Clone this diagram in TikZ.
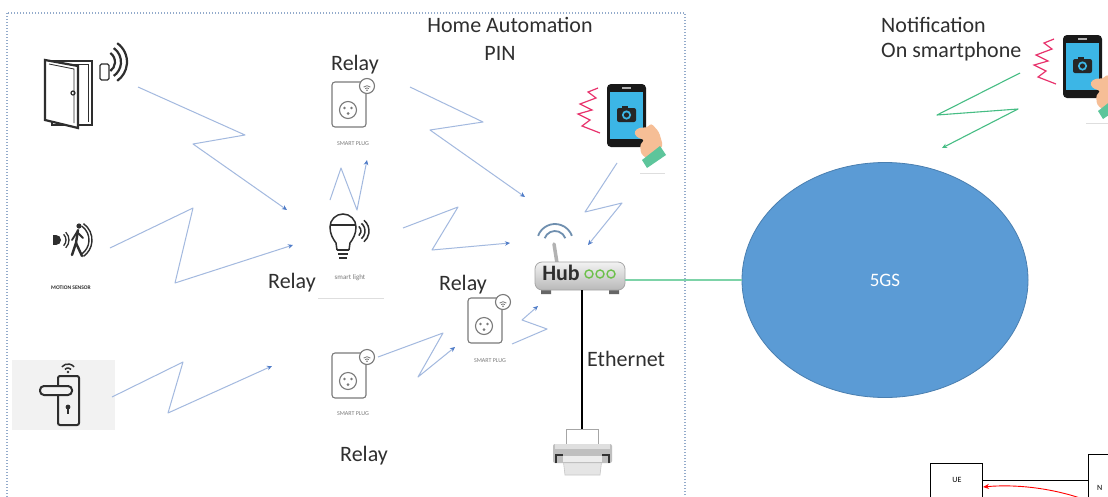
\documentclass[tikz,border=0pt]{standalone}
\usepackage{fontspec}
\setmainfont{Carlito}
\usetikzlibrary{arrows.meta,shapes.geometric}

\definecolor{zig}{HTML}{A3B9DF}
\definecolor{zighead}{HTML}{4F7CC8}
\definecolor{txt}{HTML}{2F2F2F}
\definecolor{plugcol}{HTML}{7A7A7A}
\definecolor{cellblue}{HTML}{5B9BD5}
\definecolor{celledge}{HTML}{4A7FB0}
\definecolor{linkgreen}{HTML}{7DD3A8}
\definecolor{notegreen}{HTML}{46BD84}
\definecolor{screen}{HTML}{3CB6E6}
\definecolor{skin}{HTML}{F6BE96}
\definecolor{cuff}{HTML}{5DC59B}
\definecolor{alertpink}{HTML}{E8336D}
\definecolor{frameblue}{HTML}{93ABCB}
\definecolor{hubgreen}{HTML}{6CC04A}
\definecolor{wifiblue}{HTML}{6F8FAF}
\definecolor{icondark}{HTML}{2E2E2E}

\newcommand\lblfont{\fontsize{22}{26}\selectfont}
\newcommand\tinyfont{\fontsize{6}{7}\selectfont}

\tikzset{
  lbl/.style={font=\lblfont, text=txt, inner sep=0pt},
  tinylbl/.style={font=\tinyfont, text=plugcol, inner sep=0pt},
  zigarrow/.style={draw=zig, line width=1pt, line join=round,
    -{Stealth[length=5pt,width=4.5pt,color=zighead]}},
  plugline/.style={draw=plugcol, line width=1.1pt},
  smartplug/.pic={
    \draw[plugline, rounded corners=3pt] (0,0) rectangle (34,45);
    \draw[plugline] (16,28) circle (8.5);
    \fill[plugcol] (12.5,26) circle (1.4) (19.5,26) circle (1.4) (16,31.5) circle (1.5);
    \draw[plugline, fill=white] (35,4) circle (7.5);
    \fill[plugcol] (35,8.3) circle (0.9);
    \draw[plugcol, line width=0.8pt] (35,8.5) ++(-135:2.6) arc[start angle=-135,end angle=-45,radius=2.6];
    \draw[plugcol, line width=0.8pt] (35,8.5) ++(-135:4.8) arc[start angle=-135,end angle=-45,radius=4.8];
  },
  phone/.pic={
    \draw[alertpink, line width=1.2pt] (-9,4) -- (-19,8) -- (-11,14) -- (-27,20) -- (-15,26)
      -- (-29,30) -- (-17,36) -- (-25,42) -- (-7,49);
    \fill[black!90, rounded corners=4pt] (0,0) rectangle (39,63);
    \fill[screen] (3,8) rectangle (36,55);
    \fill[gray!60] (15,3) rectangle (24,5);
    \fill[black!85, rounded corners=2pt] (10,24) rectangle (29,38);
    \fill[black!85] (15,21.5) rectangle (21,25);
    \fill[screen] (19.5,31) circle (4.6);
    \fill[black!85] (19.5,31) circle (2.6);
    \fill[skin, rounded corners=3pt] (27,47) -- (34,43) -- (40,44) -- (44,39) -- (52,48)
      -- (56,62) -- (42,76) -- (34,70) -- (33,60) -- (38,56) -- (29,53) -- cycle;
    \fill[cuff] (35,76) -- (53,62) -- (59,71) -- (40,84) -- cycle;
  }
}

\begin{document}
\begin{tikzpicture}[x=1pt,y=-1pt]
\clip (0,0) rectangle (1108,496);
\fill[white] (0,0) rectangle (1108,496);

% ---------- home network frame ----------
\draw[frameblue, line width=1.1pt, dash pattern=on 1.2pt off 1.8pt] (7,13) rectangle (685,530);
\node[lbl] (title) at (510,25) {Home Automation};
\node[lbl] (pin) at (500,53) {PIN};

% ---------- door sensor ----------
\begin{scope}[icondark]
  \draw[line width=1.8pt] (52,61) rectangle (92,125);
  \draw[line width=0.8pt] (56,64) -- (88,64) -- (88,122);
  \draw[line width=2.2pt, fill=white] (45,60) -- (78,66) -- (78,128) -- (45,120) -- cycle;
  \draw[line width=0.8pt] (49,64) -- (74,69) -- (74,123);
  \draw[line width=1.2pt] (73,93) circle (2);
  \draw[line width=1.3pt, rounded corners=1.5pt] (100,64) rectangle (109,80);
  \foreach \r in {11,17,23}
    \draw[line width=2.2pt] (104,62) ++(-55:\r) arc[start angle=-55,end angle=55,radius=\r];
\end{scope}
\coordinate (door) at (138,87);

% ---------- motion sensor ----------
\begin{scope}[icondark]
  \fill (53,235) rectangle (56,245);
  \fill (56,240) ++(-90:5) arc[start angle=-90,end angle=90,radius=5] -- cycle;
  \foreach \r in {8,11}
    \draw[line width=1.3pt] (58,240) ++(-45:\r) arc[start angle=-45,end angle=45,radius=\r];
  \fill (79,226) circle (2.6);
  \draw[line width=2.4pt, line cap=round] (78,230) -- (76,243) -- (72,255);
  \draw[line width=2.4pt, line cap=round] (76,243) -- (82,256);
  \draw[line width=1.8pt, line cap=round] (72,240) -- (77,232) -- (83,238);
  \foreach \r in {17,20}
    \draw[line width=1.4pt] (72,240) ++(-55:\r) arc[start angle=-55,end angle=55,radius=\r];
\end{scope}
\node[font=\fontsize{5.5}{6}\selectfont\bfseries, text=icondark, inner sep=0pt] (motionlbl) at (71,288) {MOTION SENSOR};
\coordinate (motion) at (110,248);

% ---------- smart door lock ----------
\fill[black!5] (12,360) rectangle (115,430);
\begin{scope}[icondark]
  \draw[line width=2pt, rounded corners=2pt] (58,376) rectangle (79,425);
  \draw[line width=2pt, fill=black!5, rounded corners=4pt] (40,386) rectangle (72,395);
  \fill (68,407) circle (2.4);
  \draw[line width=1.6pt] (68,407) -- (68,414);
  \fill (68,372) circle (1.3);
  \foreach \r in {4,8}
    \draw[line width=1.5pt] (68,372) ++(-140:\r) arc[start angle=-140,end angle=-40,radius=\r];
\end{scope}
\coordinate (lock) at (112,397);

% ---------- smart bulb ----------
\begin{scope}[icondark, line width=1.5pt]
  \draw (337,250) -- (336,243) .. controls (333,239) and (330,234) .. (330,227)
        arc[start angle=180,end angle=360,radius=13]
        .. controls (356,234) and (353,239) .. (350,243) -- (349,250);
  \draw (331,225) -- (355,225);
  \draw (337,250) -- (349,250);
  \draw (338,254) -- (348,254);
  \draw (339,258) -- (347,258);
  \foreach \r in {6,10,14}
    \draw (355,231) ++(-50:\r) arc[start angle=-50,end angle=50,radius=\r];
\end{scope}
\node[tinylbl, font=\fontsize{7}{8}\selectfont] (bulblbl) at (350,278) {smart light};
\draw[black!13, line width=0.8pt] (318,298) -- (384,298);
\coordinate (bulb) at (293,245);
\node[lbl] (relaybulb) at (292,283) {Relay};

% ---------- smart plugs ----------
\pic at (332,82) {smartplug};
\node[tinylbl] (plugAlbl) at (353,144) {SMART PLUG};
\node[lbl] (relayA) at (355,65) {Relay};

\pic at (468,298) {smartplug};
\node[tinylbl] (plugBlbl) at (490,361) {SMART PLUG};
\node[lbl] (relayB) at (463,285) {Relay};

\pic at (332,353) {smartplug};
\node[tinylbl] (plugClbl) at (353,414) {SMART PLUG};
\node[lbl] (relayC) at (364,456) {Relay};

% ---------- smartphone inside the home ----------
\pic at (607,84) {phone};
\draw[black!13, line width=0.8pt] (640,173) -- (665,173);

% ---------- hub ----------
\draw[wifiblue, line width=1.8pt] (555,242) ++(-160:11) arc[start angle=-160,end angle=-20,radius=11];
\draw[wifiblue, line width=1.8pt] (555,242) ++(-160:18) arc[start angle=-160,end angle=-20,radius=18];
\draw[gray!60, line width=3.5pt, line cap=round] (557,263) -- (554,244);
\fill[black!60] (541,289) rectangle (551,294) (609,289) rectangle (619,294);
\node[draw=gray!70, line width=0.8pt, top color=gray!10, bottom color=gray!55,
      rounded corners=7pt, minimum width=90pt, minimum height=28pt, inner sep=0pt] (hub) at (580,276) {};
\node[font=\lblfont\bfseries, text=icondark, inner sep=0pt] (hubtxt) at (561,273) {Hub};
\foreach \x in {589,600,611}
  \draw[hubgreen, line width=1.4pt] (\x,274) circle (4);

% ---------- printer on Ethernet ----------
\node[draw=gray!70, fill=white, line width=1pt, minimum width=32pt, minimum height=16pt,
      inner sep=0pt, anchor=north] (printer) at (582,429) {};
\fill[gray!20] (563,458) -- (602,458) -- (600,475) -- (565,475) -- cycle;
\draw[gray!45, line width=0.6pt] (563,458) -- (565,475) -- (600,475) -- (602,458);
\fill[gray!50, rounded corners=2pt] (553,444) rectangle (612,463);
\fill[gray!25] (555,444) rectangle (610,449);
\draw[black!80, line width=1.6pt] (556,463) -- (556,455) -- (563,455);
\draw[black!80, line width=1.6pt] (609,463) -- (609,455) -- (602,455);
\fill[gray!15] (563,456) rectangle (602,462);
\draw[black, line width=2.3pt] (hub.south -| printer.north) -- (printer.north);
\node[lbl, anchor=west] (eth) at (587,359) {Ethernet};

% ---------- 5G system ----------
\node[ellipse, fill=cellblue, draw=celledge, line width=0.8pt, minimum width=286pt,
      minimum height=235pt, inner sep=0pt, text=white, font=\fontsize{19}{22}\selectfont] (core) at (885,280) {5GS};
\draw[linkgreen, line width=1.6pt] (core.west -| hub.east) -- (core.west);

% ---------- notification phone ----------
\node[lbl, anchor=west] (notif) at (881,25) {Notification};
\node[lbl, anchor=west] (onphone) at (881,52) {On smartphone};
\begin{scope}[yscale=0.9]
  \pic at (1063,38.9) {phone};
\end{scope}
\draw[black!13, line width=0.8pt] (1086,123) -- (1108,123);

% ---------- wireless links ----------
\coordinate (toBulbA) at (287,210);
\coordinate (toBulbB) at (293,245);
\coordinate (fromBulb) at (330,200);
\coordinate (toPlugA) at (367,160);
\coordinate (fromPlugA) at (410,87);
\coordinate (fromBulbR) at (403,228);
\coordinate (toPlugC) at (272,366);
\coordinate (fromPlugC) at (378,357);
\coordinate (toPlugB) at (455,347);
\coordinate (fromPlugB) at (512,344);
\coordinate (fromPhone) at (617,163);
\coordinate (hubNW) at (525,197);
\coordinate (hubW) at (510,243);
\coordinate (hubN) at (588,245);
\coordinate (hubSW) at (538,306);

\draw[zigarrow] (door) -- (245,135) -- (193,144) -- (toBulbA);
\draw[zigarrow] (motion) -- (193,208) -- (175,283) -- (toBulbB);
\draw[zigarrow] (lock) -- (183,362) -- (168,413) -- (toPlugC);
\draw[zigarrow] (fromBulb) -- (341,168) -- (357,210) -- (toPlugA);
\draw[zigarrow] (fromPlugA) -- (483,122) -- (430,130) -- (hubNW);
\draw[zigarrow] (fromBulbR) -- (458,207) -- (432,250) -- (hubW);
\draw[zigarrow] (fromPhone) -- (585,212) -- (622,203) -- (hubN);
\draw[zigarrow] (fromPlugB) -- (547,329) -- (522,320) -- (hubSW);
\draw[zigarrow] (fromPlugC) -- (443,333) -- (418,377) -- (toPlugB);

% notification link from the 5G system to the phone
\coordinate (notePhone) at (1020,73);
\coordinate (noteCore) at (942,148);
\draw[notegreen, line width=1.1pt, line join=round, -{Stealth[length=5pt,width=4.5pt]}]
  (notePhone) -- (937,115) -- (1018,109) -- (noteCore);

% ---------- UE / network function boxes ----------
\node[draw, line width=0.9pt, minimum width=52pt, minimum height=45pt, inner sep=0pt,
      anchor=north west] (ue) at (930,463) {};
\node[font=\fontsize{8}{9}\selectfont, inner sep=0pt] (uetxt) at (957,480) {UE};
\node[draw, line width=0.9pt, minimum width=40pt, minimum height=60pt, inner sep=0pt,
      anchor=north west] (nf) at (1088,454) {};
\node[font=\fontsize{8}{9}\selectfont, inner sep=0pt, anchor=west] (nftxt) at (1097,488) {N};
\draw[line width=0.9pt] (ue.east |- 0,480) -- (nf.west |- 0,480);
\coordinate (redstart) at (1080,498);
\coordinate (redend) at (983,487);
\draw[red, line width=0.9pt, -{Stealth[length=6pt,width=5pt]}]
  (redstart) .. controls (1050,488) and (1015,484) .. (redend);
\end{tikzpicture}
\end{document}
